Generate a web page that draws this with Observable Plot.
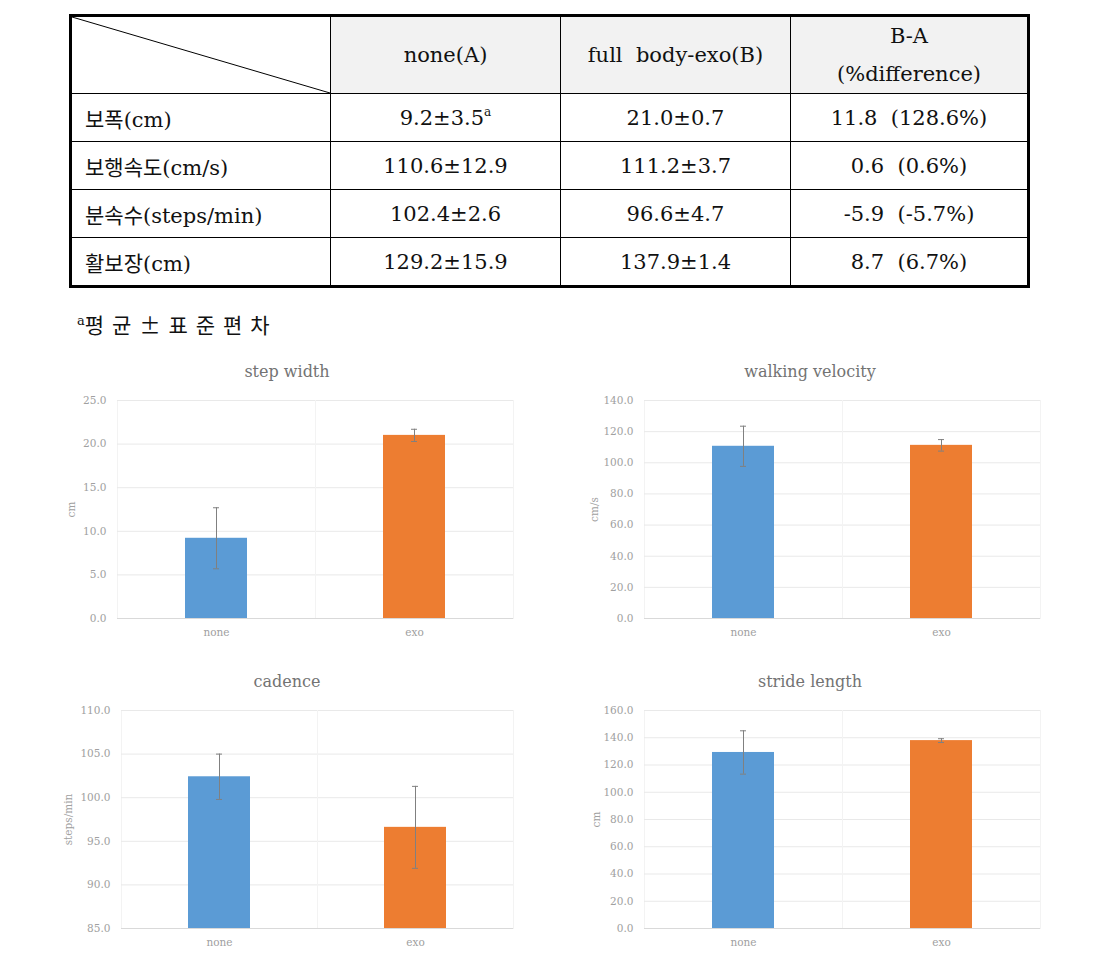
<!DOCTYPE html>
<html>
<head>
<meta charset="utf-8">
<script src="https://cdn.jsdelivr.net/npm/d3@7"></script>
<script src="https://cdn.jsdelivr.net/npm/@observablehq/plot@0.6"></script>
<style>
  body { margin: 0; background: #fff; }
  #page { position: relative; width: 1101px; height: 975px; overflow: hidden; background: #fff; }
  table.stats {
    position: absolute; left: 69px; top: 14px;
    border-collapse: collapse; table-layout: fixed;
    border: 3px solid #000;
    font-family: "DejaVu Serif", "Noto Sans CJK KR", serif;
    font-size: 21px; color: #111;
  }
  table.stats td { border: 1px solid #000; padding: 0; text-align: center; white-space: pre; }
  table.stats tr.head td { background: #f2f2f2; height: 76px; line-height: 38px; }
  table.stats tr.head td.diag {
    background: #fff url("data:image/svg+xml,%3Csvg xmlns='http://www.w3.org/2000/svg' viewBox='0 0 100 100' preserveAspectRatio='none'%3E%3Cline x1='0' y1='0' x2='100' y2='100' stroke='black' stroke-width='1' vector-effect='non-scaling-stroke'/%3E%3C/svg%3E") no-repeat;
    background-size: 100% 100%;
  }
  table.stats tr.row td { height: 47px; }
  table.stats td.lab { text-align: left; padding-left: 13px; }
  table.stats sup { font-size: 12px; vertical-align: 9px; line-height: 0; }
  .note { position: absolute; left: 77px; top: 309px; font-family: "Noto Sans CJK KR", serif; font-size: 21px; letter-spacing: 8px; color: #111; }
  .note sup { font-family: "DejaVu Serif", serif; font-size: 13px; letter-spacing: 0; vertical-align: 8px; line-height: 0; }
  .ptitle { position: absolute; width: 400px; text-align: center; font-family: "DejaVu Serif", serif; font-size: 16px; color: #737373; }
  .panel { position: absolute; }
</style>
</head>
<body>
<div id="page"></div>
<script>
// ---------- data ----------
const categories = ["none", "exo"];
const barColors = ["#5b9bd5", "#ed7d31"];

const metricTitles = ["step width", "walking velocity", "cadence", "stride length"];
const unitLabels = ["cm", "cm/s", "steps/min", "cm"];
const noneMeans = [9.2, 110.6, 102.4, 129.2];
const noneSDs = [3.5, 12.9, 2.6, 15.9];
const exoMeans = [21.0, 111.2, 96.6, 137.9];
const exoSDs = [0.7, 3.7, 4.7, 1.4];

const stepWidthTicks = [0, 5, 10, 15, 20, 25];
const velocityTicks = [0, 20, 40, 60, 80, 100, 120, 140];
const cadenceTicks = [85, 90, 95, 100, 105, 110];
const strideTicks = [0, 20, 40, 60, 80, 100, 120, 140, 160];

// table
const tableRowLabels = ["보폭(cm)", "보행속도(cm/s)", "분속수(steps/min)", "활보장(cm)"];
const tableColHeaders = ["none(A)", "full  body-exo(B)", "B-A\n(%difference)"];
const diffValues = ["11.8", "0.6", "-5.9", "8.7"];
const diffPercents = ["128.6%", "0.6%", "-5.7%", "6.7%"];
const footnoteMark = "a";
const footnoteText = "평균±표준편차";

// ---------- table ----------
const page = document.getElementById("page");
const fmt1 = d3.format(".1f");
const table = document.createElement("table");
table.className = "stats";
const colWidths = [260, 230, 230, 238];
const colgroup = document.createElement("colgroup");
colWidths.forEach(w => { const c = document.createElement("col"); c.style.width = w + "px"; colgroup.appendChild(c); });
table.appendChild(colgroup);
const head = document.createElement("tr");
head.className = "head";
const diagCell = document.createElement("td");
diagCell.className = "diag";
head.appendChild(diagCell);
tableColHeaders.forEach(h => { const td = document.createElement("td"); td.textContent = h; head.appendChild(td); });
table.appendChild(head);
tableRowLabels.forEach((lab, i) => {
  const tr = document.createElement("tr");
  tr.className = "row";
  const l = document.createElement("td"); l.className = "lab"; l.textContent = lab; tr.appendChild(l);
  const a = document.createElement("td");
  a.textContent = fmt1(noneMeans[i]) + "±" + fmt1(noneSDs[i]);
  if (i === 0) { const s = document.createElement("sup"); s.textContent = footnoteMark; a.appendChild(s); }
  tr.appendChild(a);
  const b = document.createElement("td"); b.textContent = fmt1(exoMeans[i]) + "±" + fmt1(exoSDs[i]); tr.appendChild(b);
  const c = document.createElement("td"); c.textContent = diffValues[i] + "  (" + diffPercents[i] + ")"; tr.appendChild(c);
  table.appendChild(tr);
});
page.appendChild(table);

const note = document.createElement("div");
note.className = "note";
note.innerHTML = "<sup>" + footnoteMark + "</sup>" + footnoteText;
page.appendChild(note);

// ---------- charts ----------
const tickSets = [stepWidthTicks, velocityTicks, cadenceTicks, strideTicks];
const layout = [
  {left: 55, top: 390, titleX: 287, titleY: 362, labelOffset: 50},
  {left: 582, top: 390, titleX: 810, titleY: 362, labelOffset: 54},
  {left: 59, top: 700, titleX: 287, titleY: 672, labelOffset: 57},
  {left: 582, top: 700, titleX: 810, titleY: 672, labelOffset: 52}
];

metricTitles.forEach((title, i) => {
  const ticks = tickSets[i];
  const yMin = ticks[0], yMax = ticks[ticks.length - 1];
  const data = categories.map((c, j) => ({
    cat: c,
    mean: j === 0 ? noneMeans[i] : exoMeans[i],
    sd: j === 0 ? noneSDs[i] : exoSDs[i]
  }));
  const L = layout[i];
  const W = 470 - (L.left === 59 ? 4 : 0), H = 255;
  const mL = 62, mR = 12, mT = 10, mB = 27;
  const plotW = W - mL - mR;
  const chart = Plot.plot({
    width: W, height: H,
    marginLeft: mL, marginRight: mR, marginTop: mT, marginBottom: mB,
    style: {fontFamily: "DejaVu Serif, serif", fontSize: "10.5px", color: "#a0a0a0", background: "transparent"},
    x: {domain: categories, paddingInner: 0.685, paddingOuter: 0.3425, label: null, tickSize: 0, tickPadding: 10},
    y: {domain: [yMin, yMax], ticks: ticks, tickFormat: fmt1, tickSize: 0, tickPadding: 11,
        label: unitLabels[i], labelAnchor: "center", labelArrow: "none", labelOffset: L.labelOffset},
    color: {domain: categories, range: barColors},
    marks: [
      Plot.frame({stroke: "#f3f3f3"}),
      Plot.gridY(ticks, {stroke: "#e9e9e9", strokeOpacity: 1}),
      Plot.ruleX([categories[0]], {dx: plotW / 4, stroke: "#f3f3f3"}),
      Plot.barY(data, {x: "cat", y1: yMin, y2: "mean", fill: "cat"}),
      Plot.ruleY([yMin], {stroke: "#d9d9d9"}),
      Plot.ruleX(data, {x: "cat", y1: d => d.mean - d.sd, y2: d => d.mean + d.sd, stroke: "#808080", strokeWidth: 1}),
      Plot.tickY(data, {x: "cat", y: d => d.mean + d.sd, stroke: "#808080", insetLeft: 28, insetRight: 28}),
      Plot.tickY(data, {x: "cat", y: d => d.mean - d.sd, stroke: "#808080", insetLeft: 28, insetRight: 28})
    ]
  });
  chart.classList.add("panel");
  chart.style.left = L.left + "px";
  chart.style.top = L.top + "px";
  page.appendChild(chart);

  const t = document.createElement("div");
  t.className = "ptitle";
  t.textContent = title;
  t.style.left = (L.titleX - 200) + "px";
  t.style.top = L.titleY + "px";
  page.appendChild(t);
});
</script>
</body>
</html>
